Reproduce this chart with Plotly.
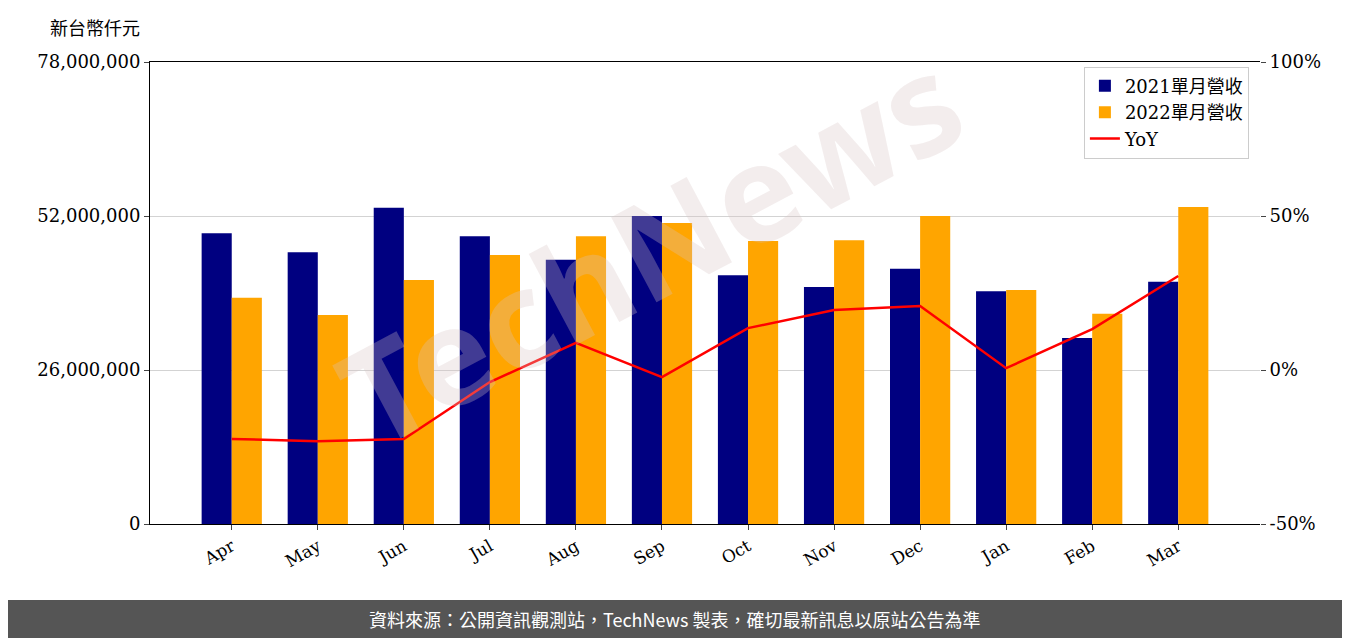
import plotly.graph_objects as go

months = ["Apr","May","Jun","Jul","Aug","Sep","Oct","Nov","Dec","Jan","Feb","Mar"]
rev2021 = [49.1e6,45.9e6,53.4e6,48.6e6,44.6e6,52.0e6,42.0e6,40.0e6,43.1e6,39.3e6,31.4e6,40.9e6]
rev2022 = [38.2e6,35.3e6,41.2e6,45.4e6,48.6e6,50.8e6,47.8e6,47.9e6,52.0e6,39.5e6,35.5e6,53.5e6]
yoy = [-22.4,-23.1,-22.4,-3.9,8.8,-2.3,13.6,19.5,20.8,0.6,13.3,30.5]
yticks = [0,26e6,52e6,78e6]
ytext = ["0","26,000,000","52,000,000","78,000,000"]
y2ticks = [-50,0,50,100]
y2text = ["-50%","0%","50%","100%"]

F = "DejaVu Serif, Noto Sans CJK TC"
fig = go.Figure()
fig.add_bar(x=months, y=rev2021, name="2021單月營收", marker=dict(color="#000080", line_width=0))
fig.add_bar(x=months, y=rev2022, name="2022單月營收", marker=dict(color="#FFA500", line_width=0))
fig.add_scatter(x=months, y=yoy, name="YoY", yaxis="y2", mode="lines",
                line=dict(color="red", width=2.5))
# page offset of 8px compensated
W, H, L, R, T, B = 1342, 630, 142, 90, 54, 114
pw = W - L - R; ph = H - T - B
fig.update_layout(
    width=W, height=H, margin=dict(l=L, r=R, t=T, b=B, autoexpand=False),
    plot_bgcolor="white", paper_bgcolor="white", font=dict(family=F, size=16, color="black"),
    barmode="group", bargap=0.3, bargroupgap=0,
    xaxis=dict(showline=True, linecolor="black", mirror=True, ticks="outside", tickangle=-30,
               tickfont=dict(size=17), range=[-0.95, 11.95]),
    yaxis=dict(range=[0,78e6], tickvals=yticks, ticktext=ytext, showgrid=True, gridcolor="#d3d3d3",
               ticks="outside", showline=True, linecolor="black", tickfont=dict(size=18), zeroline=False),
    yaxis2=dict(range=[-50,100], tickvals=y2ticks, ticktext=y2text, overlaying="y", side="right",
                ticks="outside", showgrid=False, zeroline=False, tickfont=dict(size=18)),
    legend=dict(x=0.99, y=0.99, xanchor="right", yanchor="top", bordercolor="#ccc", borderwidth=1,
                font=dict(size=18), bgcolor="rgba(255,255,255,0.8)"),
    annotations=[
        dict(text="新台幣仟元", xref="paper", yref="paper", x=(87-L)/pw, y=1+(54-19)/ph, showarrow=False,
             xanchor="center", yanchor="middle", font=dict(size=18, family="Noto Sans CJK TC")),
        dict(text="<b>TechNews</b>", xref="paper", yref="paper", x=0.45, y=0.6, showarrow=False, textangle=-28,
             font=dict(size=135, family="Noto Sans", color="rgba(215,195,195,0.3)")),
        dict(text="資料來源：公開資訊觀測站，TechNews 製表，確切最新訊息以原站公告為準", xref="paper", yref="paper",
             x=(667 - L)/pw, y=-(611-(H-B))/ph, showarrow=False, xanchor="center", yanchor="middle",
             font=dict(size=18, color="white", family="Noto Sans CJK TC")),
    ],
    shapes=[dict(type="rect", xref="paper", yref="paper", x0=-L/pw, x1=1+R/pw,
                 y0=-B/ph, y1=-(592-(H-B))/ph, fillcolor="#555555", line_width=0, layer="below")],
)
fig.write_html("out.html")
